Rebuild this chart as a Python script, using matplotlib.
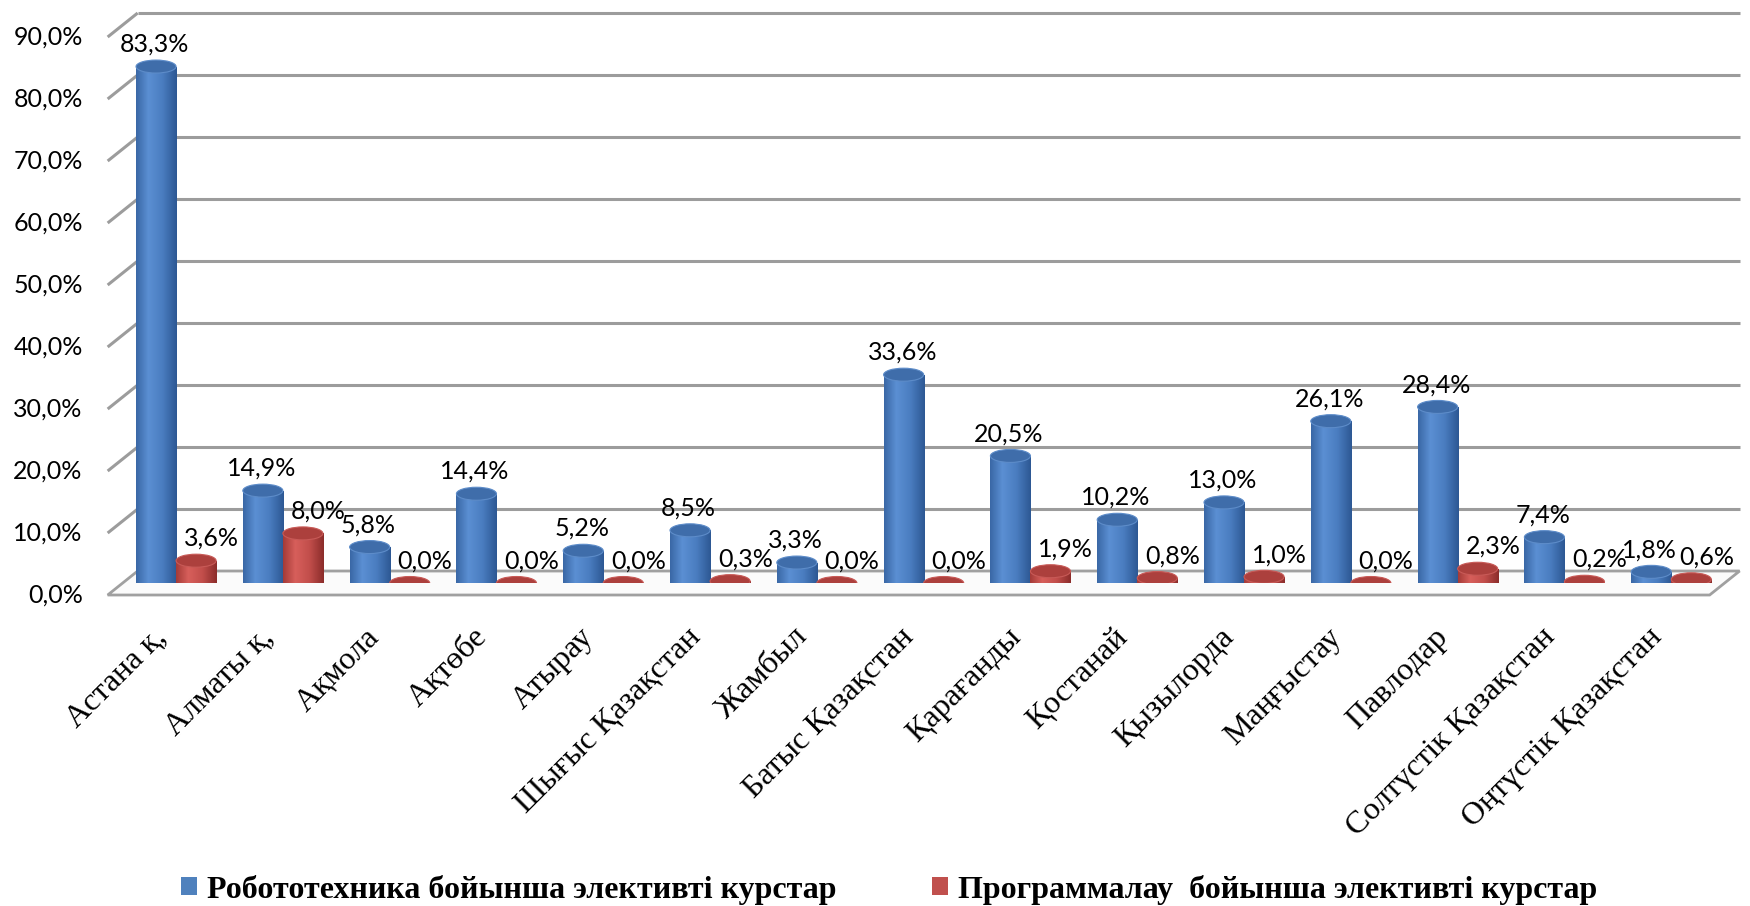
import numpy as np
import matplotlib
matplotlib.use("Agg")
import matplotlib.pyplot as plt
from matplotlib.patches import Ellipse, Polygon, Patch
from matplotlib.colors import LinearSegmentedColormap
from matplotlib.font_manager import FontProperties

# regions of Kazakhstan and share of schools with elective courses, %
regions = [
    "Астана қ,", "Алматы қ,", "Ақмола", "Ақтөбе", "Атырау",
    "Шығыс Қазақстан", "Жамбыл", "Батыс Қазақстан", "Қарағанды", "Қостанай",
    "Қызылорда", "Маңғыстау", "Павлодар", "Солтүстік Қазақстан", "Оңтүстік Қазақстан",
]
robotics = [83.3, 14.9, 5.8, 14.4, 5.2, 8.5, 3.3, 33.6, 20.5, 10.2, 13.0, 26.1, 28.4, 7.4, 1.8]
programming = [3.6, 8.0, 0.0, 0.0, 0.0, 0.3, 0.0, 0.0, 1.9, 0.8, 1.0, 0.0, 2.3, 0.2, 0.6]
series_names = [
    "Робототехника бойынша элективті курстар",
    "Программалау  бойынша элективті курстар",
]
y_ticks = [0, 10, 20, 30, 40, 50, 60, 70, 80, 90]

BLUE = "#4F81BD"
RED = "#C0504D"
blue_cmap = LinearSegmentedColormap.from_list(
    "cyl_blue", [(0, "#3A68A6"), (0.3, "#5B8FD3"), (0.65, "#4A7DC0"), (1, "#2D5894")])
red_cmap = LinearSegmentedColormap.from_list(
    "cyl_red", [(0, "#A53B38"), (0.3, "#D75F5B"), (0.65, "#C24E4B"), (1, "#8C2D2B")])
grad = np.linspace(0, 1, 64).reshape(1, -1)

num_font = "Lato"
serif = ["Liberation Serif", "DejaVu Serif"]

fig = plt.figure(figsize=(17.5, 9.06), dpi=100)
ax = fig.add_axes([0.0701, 0.3565, 0.9154, 0.6159])
ax.set_xlim(-0.5, len(regions) - 0.5)
ax.set_ylim(0, 90)
ax.axis("off")

# pixels per data unit, used to fake the depth of the 3d box
sx = ax.bbox.width / len(regions)
sy = ax.bbox.height / 90
DX, DY = 15, 12


def shift(x, v, d):
    return x + d * DX / sx, v + d * DY / sy


x_lo, x_hi = -0.5, len(regions) - 0.5
grid_kw = dict(color="#9C9C9C", lw=2.2, clip_on=False, zorder=1, solid_capstyle="butt")

# back wall gridlines, side diagonals and y labels on the front edge
for t in y_ticks:
    bx0, by0 = shift(x_lo, t, 1)
    bx1, by1 = shift(x_hi, t, 1)
    fx, fy = shift(x_lo, t, -1)
    if t > 0:
        ax.plot([bx0, bx1], [by0, by1], **grid_kw)
        ax.plot([fx, bx0], [fy, by0], **grid_kw)
    ax.text(fx - 25 / sx, fy, f"{t:.1f}%".replace(".", ","), ha="right", va="center",
            fontsize=18, family=num_font, color="#000000")

# floor of the box
floor = Polygon([shift(x_lo, 0, -1), shift(x_hi, 0, -1), shift(x_hi, 0, 1), shift(x_lo, 0, 1)],
                closed=True, facecolor="#FBFBFB", edgecolor="#A0A0A0", lw=2, zorder=1.5,
                clip_on=False)
ax.add_patch(floor)

w = 0.375
x = np.arange(len(regions))
eh = 13 / sy
bars_b = ax.bar(x - w / 2, robotics, w, color=BLUE, zorder=3)
bars_r = ax.bar(x + w / 2, programming, w, color=RED, zorder=3)


def cylinder(bar, cmap, top_color, rim_color):
    x0 = bar.get_x()
    x1 = x0 + bar.get_width()
    h = bar.get_height()
    cx = x0 + bar.get_width() / 2
    bottom = Ellipse((cx, 0), bar.get_width(), eh, facecolor="none", edgecolor="none", zorder=2.9)
    ax.add_patch(bottom)
    im = ax.imshow(grad, cmap=cmap, extent=(x0, x1, -eh / 2, max(h, 0.01)), aspect="auto",
                   zorder=2.9, interpolation="bilinear")
    im.set_clip_path(bottom)
    if h > 0:
        im2 = ax.imshow(grad, cmap=cmap, extent=(x0, x1, 0, h), aspect="auto",
                        zorder=3, interpolation="bilinear")
        im2.set_clip_path(bar)
    bar.set_visible(False)
    ax.add_patch(Ellipse((cx, h), bar.get_width(), eh, facecolor=top_color,
                         edgecolor=rim_color, lw=0.8, zorder=3.5))


for b in bars_b:
    cylinder(b, blue_cmap, "#3F6DAA", "#5D8CC9")
for b in bars_r:
    cylinder(b, red_cmap, "#AC403D", "#C85A57")

# value labels
for xi, v in zip(x - w / 2, robotics):
    ax.annotate(f"{v:.1f}%".replace(".", ","), (xi, v), xytext=(-1, 16), textcoords="offset points",
                ha="center", va="center", fontsize=18, family=num_font, zorder=5)
for xi, v in zip(x + w / 2, programming):
    ax.annotate(f"{v:.1f}%".replace(".", ","), (xi, v), xytext=(11, 16), textcoords="offset points",
                ha="center", va="center", fontsize=18, family=num_font, zorder=5)

# category labels
for xi, name in zip(x, regions):
    ax.text(xi - 14 / sx, -50 / sy, name, rotation=45, rotation_mode="anchor", ha="right",
            va="center", fontsize=23, family=serif, clip_on=False)

ax.set_xlim(-0.5, len(regions) - 0.5)
ax.set_ylim(0, 90)

handles = [Patch(facecolor=BLUE), Patch(facecolor=RED)]
fig.legend(handles, series_names, loc="center", bbox_to_anchor=(0.508, 0.018), ncol=2,
           frameon=False, prop=FontProperties(family=serif, weight="bold", size=23),
           handlelength=0.5, handleheight=0.5, handletextpad=0.3, columnspacing=3.0)

fig.savefig("out.png", dpi=100)
